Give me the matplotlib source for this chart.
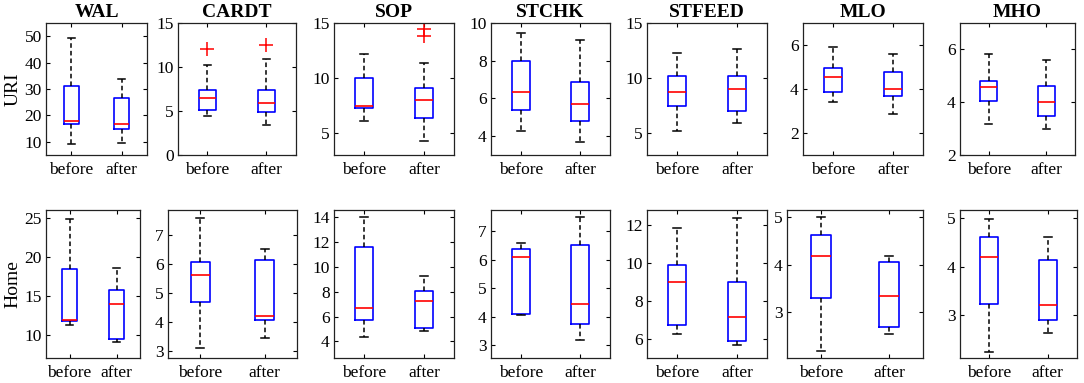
import matplotlib.pyplot as plt
import numpy as np

plt.rcParams['font.family'] = ['Liberation Serif', 'DejaVu Serif']

metrics = ['WAL', 'CARDT', 'SOP', 'STCHK', 'STFEED', 'MLO', 'MHO']
groups = ['before', 'after']

# five-number summaries: [whisker low, q1, median, q3, whisker high]
uri_before = [
    [9.0, 16.75, 18.0, 31.25, 49.5],
    [4.4, 5.06, 6.5, 7.36, 10.2],
    [6.06, 7.3, 7.48, 10.03, 12.2],
    [4.25, 5.37, 6.33, 8.0, 9.47],
    [5.15, 7.5, 8.7, 10.15, 12.27],
    [3.42, 3.86, 4.56, 4.97, 5.92],
    [3.19, 4.06, 4.59, 4.82, 5.84],
]
uri_after = [
    [9.5, 14.75, 16.6, 26.75, 33.75],
    [3.36, 4.87, 5.96, 7.36, 10.9],
    [4.3, 6.4, 8.0, 9.1, 11.4],
    [3.67, 4.79, 5.72, 6.86, 9.12],
    [5.9, 7.0, 9.03, 10.2, 12.6],
    [2.88, 3.67, 4.0, 4.77, 5.59],
    [2.99, 3.49, 3.99, 4.61, 5.61],
]
uri_out_before = [[], [12.0], [], [], [], [], []]
uri_out_after = [[], [12.5], [14.42, 13.79], [], [], [], []]

home_before = [
    [11.3, 11.7, 11.9, 18.4, 24.9],
    [3.1, 4.69, 5.62, 6.06, 7.6],
    [4.35, 5.7, 6.65, 11.65, 14.0],
    [4.05, 4.09, 6.09, 6.39, 6.6],
    [6.26, 6.75, 9.0, 9.9, 11.86],
    [2.18, 3.3, 4.18, 4.63, 5.0],
    [2.25, 3.23, 4.2, 4.61, 4.98],
]
home_after = [
    [9.1, 9.5, 13.9, 15.7, 18.5],
    [3.47, 4.09, 4.2, 6.14, 6.52],
    [4.8, 5.08, 7.27, 8.05, 9.27],
    [3.18, 3.74, 4.44, 6.51, 7.48],
    [5.68, 5.91, 7.14, 9.0, 12.39],
    [2.54, 2.69, 3.34, 4.06, 4.17],
    [2.63, 2.9, 3.21, 4.14, 4.61],
]
home_out_before = [[] for _ in metrics]
home_out_after = [[] for _ in metrics]

uri_ylim = [(5, 55), (0, 15), (3, 15), (3, 10), (3, 15), (1, 7), (2, 7)]
uri_yticks = [[10, 20, 30, 40, 50], [0, 5, 10, 15], [5, 10, 15], [4, 6, 8, 10],
              [5, 10, 15], [2, 4, 6], [2, 4, 6]]
home_ylim = [(7, 26), (2.77, 7.86), (2.65, 14.6), (2.56, 7.74), (5.0, 12.8),
             (2.03, 5.15), (2.12, 5.17)]
home_yticks = [[10, 15, 20, 25], [3, 4, 5, 6, 7], [4, 6, 8, 10, 12, 14],
               [3, 4, 5, 6, 7], [6, 8, 10, 12], [3, 4, 5], [3, 4, 5]]

# axes placement in pixels: (left, right)
W, H = 1084, 383
top_x = [(46, 147), (178, 296), (334, 454), (491, 610), (647, 767), (803, 923), (960, 1075)]
bot_x = [(46, 140), (168, 297), (334, 454), (491, 610), (647, 767), (787, 923), (960, 1077)]
top_y = (23, 155)
bot_y = (210, 358)

fig = plt.figure(figsize=(W / 100, H / 100), dpi=100)


def make_stats(summary, fliers):
    lo, q1, med, q3, hi = summary
    return dict(whislo=lo, q1=q1, med=med, q3=q3, whishi=hi, fliers=fliers)


def draw_row(xs, ys, before, after, out_b, out_a, ylims, yticks, ylabel, titles):
    for i in range(len(metrics)):
        l, r = xs[i]
        t, b = ys
        ax = fig.add_axes([l / W, 1 - b / H, (r - l) / W, (b - t) / H])
        stats = [make_stats(before[i], out_b[i]), make_stats(after[i], out_a[i])]
        ax.bxp(stats, positions=[1, 2], widths=0.3, capwidths=0.13,
               boxprops=dict(color='blue', linewidth=1.2),
               medianprops=dict(color='red', linewidth=1.2),
               whiskerprops=dict(color='black', linestyle=(0, (3, 2)), linewidth=1.1),
               capprops=dict(color='black', linewidth=1.1),
               flierprops=dict(marker='+', markeredgecolor='red', markersize=10,
                               markeredgewidth=1.1, linestyle='none'))
        ax.set_xlim(0.5, 2.5)
        ax.set_ylim(*ylims[i])
        ax.set_yticks(yticks[i])
        ax.set_xticks([1, 2])
        ax.set_xticklabels(groups)
        ax.tick_params(direction='in', top=True, right=True, length=3,
                       labelsize=12.5, width=0.8)
        ax.tick_params(axis='x', pad=5)
        ax.tick_params(axis='y', pad=3)
        for s in ax.spines.values():
            s.set_linewidth(0.9)
            s.set_color('#222222')
        if titles:
            ax.set_title(metrics[i], fontsize=14, fontweight='bold', pad=4)
        if i == 0:
            ax.set_ylabel(ylabel, fontsize=14, labelpad=2)


draw_row(top_x, top_y, uri_before, uri_after, uri_out_before, uri_out_after,
         uri_ylim, uri_yticks, 'URI', True)
draw_row(bot_x, bot_y, home_before, home_after, home_out_before, home_out_after,
         home_ylim, home_yticks, 'Home', False)

fig.savefig('out.png', dpi=100)
